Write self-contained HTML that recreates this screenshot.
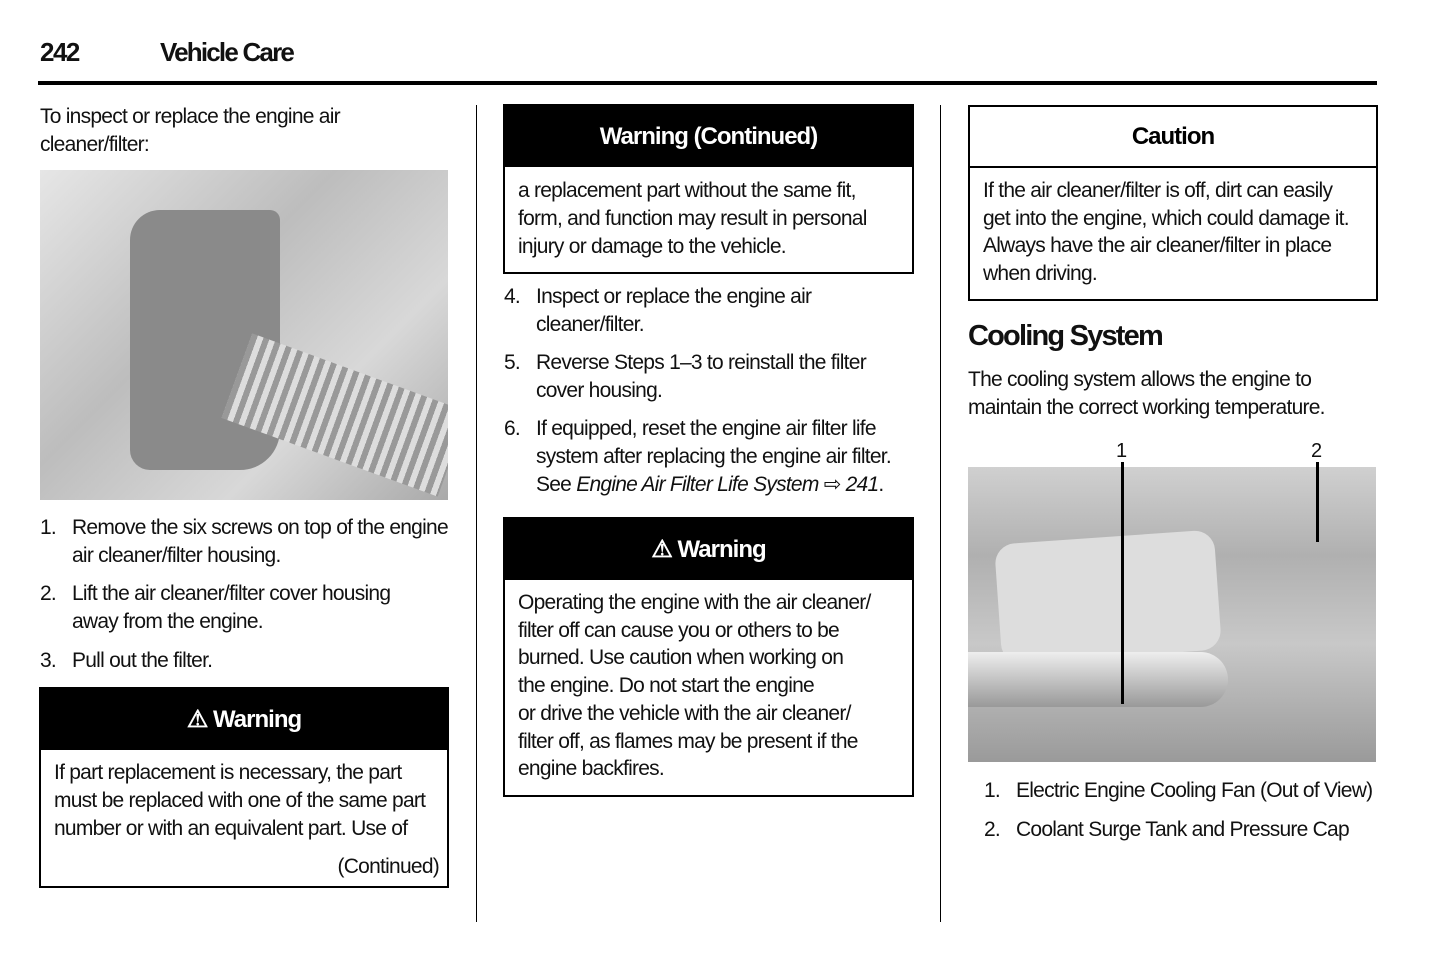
<!DOCTYPE html>
<html><head><meta charset="utf-8"><style>
body{margin:0;width:1445px;height:956px;background:#fff;position:relative;overflow:hidden;font-family:"Liberation Sans",sans-serif;color:#111}
.t{position:absolute;font-size:21px;white-space:nowrap;line-height:28px;letter-spacing:-0.75px}
.b{position:absolute;border:2px solid #000;box-sizing:border-box}
.h{position:absolute;left:0;right:0;top:0;height:61px;background:#000;color:#fff;font-weight:bold;font-size:24px;text-align:center;line-height:61px;letter-spacing:-1px}
.img{position:absolute;background:linear-gradient(135deg,#e6e6e6,#bdbdbd 40%,#d8d8d8 70%,#a9a9a9)}
.vl{position:absolute;width:1px;background:#000}
</style></head><body>
<div class="t" style="left:40px;top:38px;font-size:26px;font-weight:bold;letter-spacing:-1.5px">242</div>
<div class="t" style="left:160px;top:38px;font-size:26px;font-weight:bold;letter-spacing:-1.8px">Vehicle Care</div>
<div style="position:absolute;left:38px;top:81px;width:1339px;height:4px;background:#000"></div>
<div class="vl" style="left:476px;top:105px;height:817px"></div>
<div class="vl" style="left:940px;top:105px;height:817px"></div>

<div class="t" style="left:40px;top:103px">To inspect or replace the engine air<br>cleaner/filter:</div>
<div class="img" style="left:40px;top:170px;width:408px;height:330px;overflow:hidden">
<div style="position:absolute;left:90px;top:40px;width:150px;height:260px;background:#8a8a8a;border-radius:30px 10px 40px 20px"></div>
<div style="position:absolute;left:190px;top:200px;width:230px;height:90px;background:repeating-linear-gradient(90deg,#999 0 6px,#ddd 6px 12px);transform:rotate(20deg)"></div>
</div>
<div class="t" style="left:40px;top:514px">1.</div><div class="t" style="left:72px;top:514px">Remove the six screws on top of the engine<br>air cleaner/filter housing.</div>
<div class="t" style="left:40px;top:580px">2.</div><div class="t" style="left:72px;top:580px">Lift the air cleaner/filter cover housing<br>away from the engine.</div>
<div class="t" style="left:40px;top:647px">3.</div><div class="t" style="left:72px;top:647px">Pull out the filter.</div>
<div class="b" style="left:39px;top:687px;width:410px;height:201px"><div class="h">⚠ Warning</div>
<div class="t" style="left:13px;top:70px">If part replacement is necessary, the part<br>must be replaced with one of the same part<br>number or with an equivalent part. Use of</div>
<div class="t" style="right:8px;top:164px">(Continued)</div></div>

<div class="b" style="left:503px;top:104px;width:411px;height:170px"><div class="h">Warning (Continued)</div>
<div class="t" style="left:13px;top:71px">a replacement part without the same fit,<br>form, and function may result in personal<br>injury or damage to the vehicle.</div></div>
<div class="t" style="left:504px;top:283px">4.</div><div class="t" style="left:536px;top:283px">Inspect or replace the engine air<br>cleaner/filter.</div>
<div class="t" style="left:504px;top:349px">5.</div><div class="t" style="left:536px;top:349px">Reverse Steps 1–3 to reinstall the filter<br>cover housing.</div>
<div class="t" style="left:504px;top:415px">6.</div><div class="t" style="left:536px;top:415px">If equipped, reset the engine air filter life<br>system after replacing the engine air filter.<br>See <i>Engine Air Filter Life System</i> ⇨ <i>241</i>.</div>
<div class="b" style="left:503px;top:517px;width:411px;height:280px"><div class="h">⚠ Warning</div>
<div class="t" style="left:13px;top:70px;line-height:27.7px">Operating the engine with the air cleaner/<br>filter off can cause you or others to be<br>burned. Use caution when working on<br>the engine.  Do not start the engine<br>or drive the vehicle with the air cleaner/<br>filter off, as flames may be present if the<br>engine backfires.</div></div>

<div class="b" style="left:968px;top:105px;width:410px;height:196px"><div class="h" style="background:#fff;color:#000;border-bottom:2px solid #000;height:59px;line-height:59px">Caution</div>
<div class="t" style="left:13px;top:70px;line-height:27.7px">If the air cleaner/filter is off, dirt can easily<br>get into the engine, which could damage it.<br>Always have the air cleaner/filter in place<br>when driving.</div></div>
<div class="t" style="left:968px;top:318px;font-size:29px;font-weight:bold;line-height:36px;letter-spacing:-1.8px">Cooling System</div>
<div class="t" style="left:968px;top:366px">The cooling system allows the engine to<br>maintain the correct working temperature.</div>
<div class="t" style="left:1116px;top:437px;font-size:20px;letter-spacing:0">1</div>
<div class="t" style="left:1311px;top:437px;font-size:20px;letter-spacing:0">2</div>
<div class="img" style="left:968px;top:467px;width:408px;height:295px;background:linear-gradient(180deg,#d0d0d0,#b0b0b0 30%,#c8c8c8 60%,#9a9a9a)">
<div style="position:absolute;left:30px;top:70px;width:220px;height:120px;background:#ddd;border-radius:20px;transform:rotate(-4deg)"></div>
<div style="position:absolute;left:0;top:185px;width:260px;height:55px;background:linear-gradient(180deg,#eee,#999);border-radius:0 30px 30px 0"></div>
</div>
<div class="vl" style="left:1121px;top:462px;height:242px;width:3px;background:#000"></div>
<div class="vl" style="left:1316px;top:462px;height:80px;width:3px;background:#000"></div>
<div class="t" style="left:984px;top:777px">1.</div><div class="t" style="left:1016px;top:777px">Electric Engine Cooling Fan (Out of View)</div>
<div class="t" style="left:984px;top:816px">2.</div><div class="t" style="left:1016px;top:816px">Coolant Surge Tank and Pressure Cap</div>
</body></html>
